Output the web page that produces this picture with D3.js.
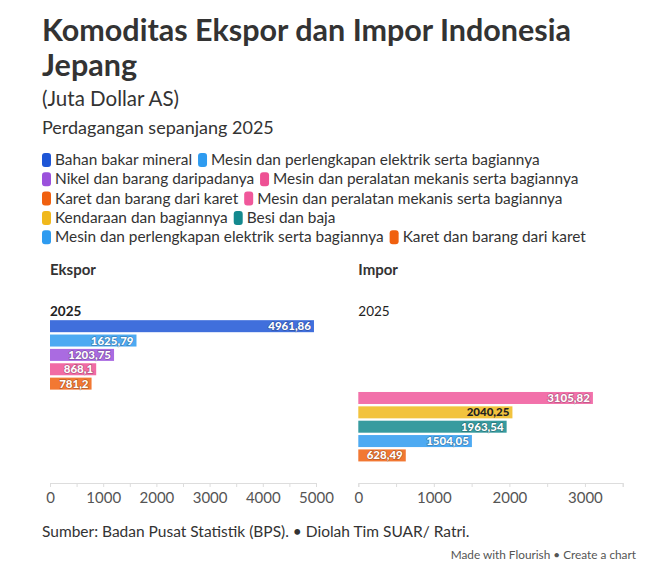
<!DOCTYPE html>
<html>
<head>
<meta charset="utf-8">
<script src="https://cdn.jsdelivr.net/npm/d3@7"></script>
<style>
  body { margin: 0; background: #fff; }
  svg { display: block; font-family: Lato, "Noto Sans", sans-serif; }
</style>
</head>
<body>
<svg id="chart"></svg>
<script>
// kategori: 5 ekspor lalu 5 impor (nama bisa berulang)
var kategori = [
  "Bahan bakar mineral",
  "Mesin dan perlengkapan elektrik serta bagiannya",
  "Nikel dan barang daripadanya",
  "Mesin dan peralatan mekanis serta bagiannya",
  "Karet dan barang dari karet",
  "Mesin dan peralatan mekanis serta bagiannya",
  "Kendaraan dan bagiannya",
  "Besi dan baja",
  "Mesin dan perlengkapan elektrik serta bagiannya",
  "Karet dan barang dari karet"
];
var ekspor = [4961.86, 1625.79, 1203.75, 868.1, 781.2, null, null, null, null, null];
var impor = [null, null, null, null, null, 3105.82, 2040.25, 1963.54, 1504.05, 628.49];
var warna = ["#1e56d6", "#2e9bf0", "#9b51dc", "#ee5194", "#f0600f",
             "#f0589b", "#f0b81c", "#14898e", "#2e9bf0", "#f0600f"];
var ticksEkspor = [0, 1000, 2000, 3000, 4000, 5000];
var ticksImpor = [0, 1000, 2000, 3000];

var W = 669, H = 582;
var svg = d3.select("#chart").attr("width", W).attr("height", H);

var ink = "#333";

// judul
var title = svg.append("g").attr("fill", ink);
title.append("text").attr("x", 42).attr("y", 41)
  .attr("font-size", 30.5).attr("font-weight", 700)
  .text("Komoditas Ekspor dan Impor Indonesia");
title.append("text").attr("x", 42).attr("y", 76)
  .attr("font-size", 30.5).attr("font-weight", 700)
  .text("Jepang");
title.append("text").attr("x", 42).attr("y", 106)
  .attr("font-size", 20.5)
  .text("(Juta Dollar AS)");
title.append("text").attr("x", 42).attr("y", 134)
  .attr("font-size", 18)
  .text("Perdagangan sepanjang 2025");

// legend, disusun mengalir
var legend = svg.append("g").attr("font-size", 15.4).attr("fill", ink);
var lx = 42, ly = 160, maxX = 630, rowH = 19.3;
kategori.forEach(function(k, i) {
  var g = legend.append("g");
  g.append("rect").attr("x", 0).attr("y", -7).attr("width", 9).attr("height", 14)
    .attr("rx", 3).attr("fill", warna[i]);
  var t = g.append("text").attr("x", 13).attr("y", 5).text(k);
  var w = 13 + t.node().getComputedTextLength();
  if (lx + w > maxX && lx > 42) { lx = 42; ly += rowH; }
  g.attr("transform", "translate(" + lx + "," + ly + ")");
  lx += w + 6;
});

// skala
var y = d3.scaleBand().domain(d3.range(kategori.length))
  .range([319, 462.6]).paddingInner(0.164).paddingOuter(0.082);

var panels = [
  { judul: "Ekspor", nilai: ekspor, x: d3.scaleLinear().domain([0, 5000]).range([50, 316]),
    ticks: ticksEkspor, tahunBold: true },
  { judul: "Impor", nilai: impor, x: d3.scaleLinear().domain([0, 3500]).range([358.3, 622.7]),
    ticks: ticksImpor, tahunBold: false }
];

var fmt = d3.formatLocale({ decimal: ",", thousands: ".", grouping: [3], currency: ["", ""] }).format("");

panels.forEach(function(p) {
  var g = svg.append("g");
  var x0 = p.x.range()[0];

  g.append("text").attr("x", x0).attr("y", 275)
    .attr("font-size", 15).attr("font-weight", 700).attr("fill", ink)
    .text(p.judul);
  g.append("text").attr("x", x0).attr("y", 316)
    .attr("font-size", 13.5).attr("font-weight", p.tahunBold ? 700 : 400).attr("fill", "#222")
    .text("2025");

  var rows = p.nilai.map(function(v, i) { return { i: i, v: v }; })
    .filter(function(d) { return d.v != null; });

  g.selectAll("rect.bar").data(rows).enter().append("rect")
    .attr("class", "bar")
    .attr("x", x0)
    .attr("y", function(d) { return y(d.i); })
    .attr("width", function(d) { return p.x(d.v) - x0; })
    .attr("height", y.bandwidth())
    .attr("fill", function(d) { return warna[d.i]; })
    .attr("fill-opacity", 0.85);

  g.selectAll("text.val").data(rows).enter().append("text")
    .attr("class", "val")
    .attr("x", function(d) { return p.x(d.v) - 3; })
    .attr("y", function(d) { return y(d.i) + y.bandwidth() / 2 + 4; })
    .attr("text-anchor", "end")
    .attr("font-size", 11.5).attr("font-weight", 900)
    .attr("fill", function(d) { return warna[d.i] === "#f0b81c" ? "#222" : "#fff"; })
    .attr("stroke", function(d) { return warna[d.i] === "#f0b81c" ? "none" : "rgba(0,0,0,0.25)"; })
    .attr("stroke-width", 1.5)
    .attr("paint-order", "stroke")
    .text(function(d) { return fmt(d.v); });

  // sumbu: tick kecil tiap 500, label tiap 1000
  var minor = d3.range(0, p.x.domain()[1] + 1, 500);
  var axis = d3.axisBottom(p.x).tickValues(minor).tickSize(4).tickPadding(5)
    .tickFormat(function(d) { return p.ticks.indexOf(d) >= 0 ? d : ""; });
  var ax = g.append("g").attr("transform", "translate(0,483)").call(axis);
  ax.select(".domain").attr("stroke", "#ddd");
  ax.selectAll(".tick line").attr("stroke", "#ddd");
  ax.selectAll(".tick text").attr("fill", "#555").attr("font-size", 15)
    .attr("font-family", "Lato, sans-serif");
});

// catatan kaki
svg.append("text").attr("x", 42).attr("y", 537)
  .attr("font-size", 15.5).attr("fill", ink)
  .text("Sumber: Badan Pusat Statistik (BPS). • Diolah Tim SUAR/ Ratri.");
svg.append("text").attr("x", 636).attr("y", 559)
  .attr("font-size", 11.8).attr("fill", "#555").attr("text-anchor", "end")
  .text("Made with Flourish • Create a chart");
</script>
</body>
</html>
